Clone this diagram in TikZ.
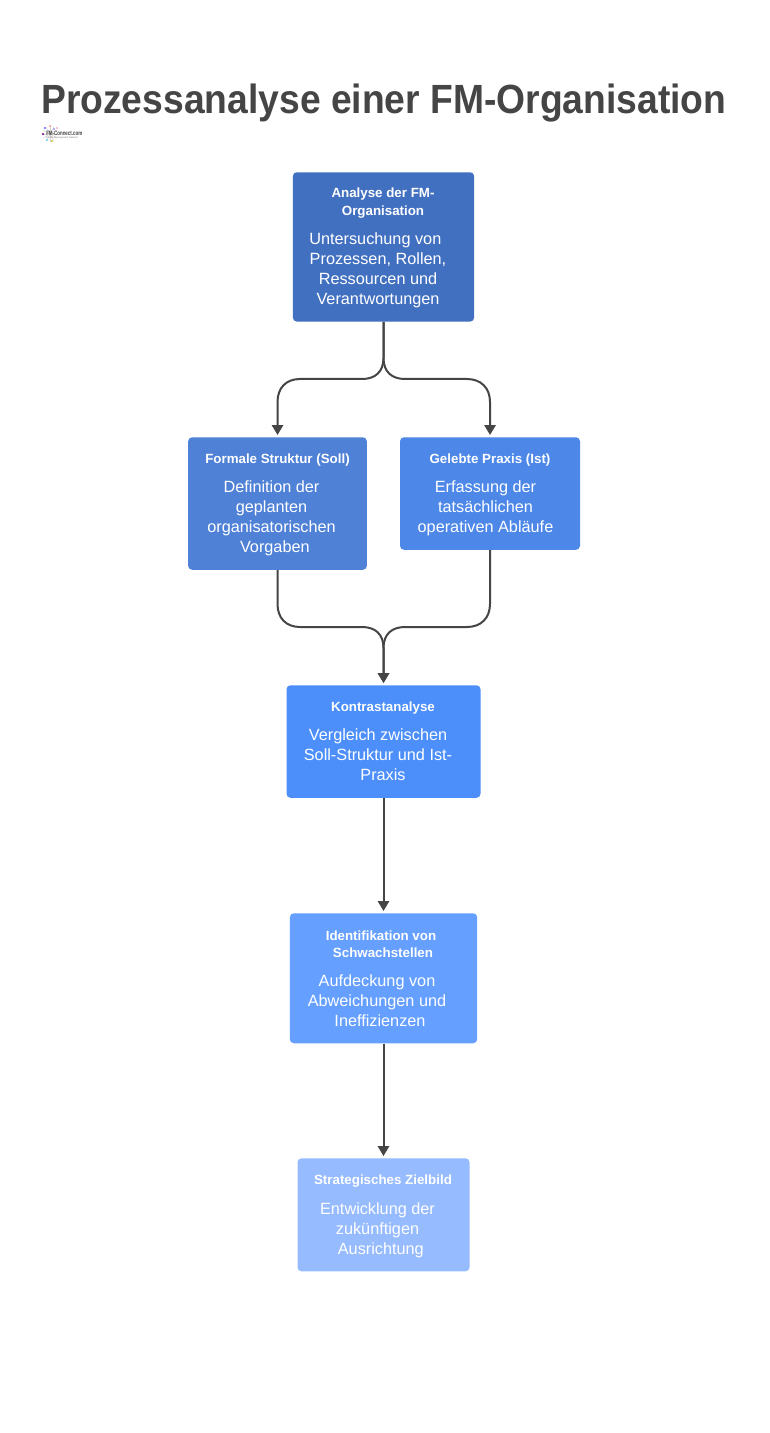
\documentclass[tikz,border=0pt]{standalone}
\usepackage{fontspec}
\setmainfont{Liberation Sans}
\usetikzlibrary{arrows.meta}
\definecolor{ink}{HTML}{454545}
\definecolor{fa}{HTML}{4270C0}
\definecolor{fb}{HTML}{4F81D6}
\definecolor{fc}{HTML}{4D87E8}
\definecolor{fd}{HTML}{4C8FFA}
\definecolor{fe}{HTML}{659FFF}
\definecolor{ff}{HTML}{96BBFF}
\tikzset{
  x=0.75pt,y=-0.75pt,
  boxn/.style={draw=none,rounded corners=3pt,inner sep=0pt,anchor=north},
  head/.style={text=white,font=\fontsize{10pt}{13pt}\selectfont\bfseries,align=center,inner sep=0pt},
  body/.style={text=white,font=\fontsize{12.2pt}{15pt}\selectfont,align=center,inner sep=0pt},
  conn/.style={draw=ink,line width=1.5pt,-{Triangle[length=7.5pt,width=8.5pt]},shorten >=1.5pt},
}
\begin{document}
\begin{tikzpicture}
\useasboundingbox (0,0) rectangle (769,1433);
\fill[white] (0,0) rectangle (769,1433);
\node[anchor=west,inner sep=0pt,text=ink,font=\fontsize{30.6pt}{36pt}\selectfont\bfseries] (title) at (41,103) {\scalebox{0.913}[1]{Prozessanalyse einer FM-Organisation}};
% logo
\foreach \a in {0,30,...,330}
  \draw[black!18,line width=0.3pt] (50,134) -- ++(\a:8);
\foreach \px/\py/\c in {45/128/blue!60,50/126/red!40,54/129/blue!40,43/134/violet,52/141/yellow!80!black,47/140/cyan!60,57/128/red!30}
  \fill[\c] (\px,\py) circle (0.8pt);
\node[inner sep=0pt,text=ink,font=\fontsize{3.5pt}{5pt}\selectfont\bfseries,anchor=west] (logo) at (46,133) {\scalebox{0.95}[1.35]{FM-Connect.com}};
\node[inner sep=0pt,text=ink!70,font=\fontsize{1.8pt}{2pt}\selectfont,anchor=west] (logosub) at (46,137.5) {Facility Management Network};

\node[boxn,fill=fa,minimum width=136pt,minimum height=112pt] (a) at (383.5,172) {};
\node[boxn,fill=fb,minimum width=134pt,minimum height=99.4pt] (b) at (277.5,437) {};
\node[boxn,fill=fc,minimum width=135pt,minimum height=84.4pt] (c) at (490,437) {};
\node[boxn,fill=fd,minimum width=145.5pt,minimum height=84.4pt] (d) at (383.5,685) {};
\node[boxn,fill=fe,minimum width=140.5pt,minimum height=97.5pt] (e) at (383.5,913) {};
\node[boxn,fill=ff,minimum width=129pt,minimum height=84.8pt] (f) at (383.5,1158) {};

\node[head] (at) at (383,203) {Analyse der FM-\\Organisation};
\node[body] (ab) at (378,270.5) {Untersuchung von\hspace*{4pt}\\Prozessen, Rollen,\\Ressourcen und\\Verantwortungen};
\node[head] (bt) at (277.5,460.5) {Formale Struktur (Soll)};
\node[body] (bb) at (271.5,518) {Definition der\\geplanten\\organisatorischen\\\hspace*{5pt}Vorgaben};
\node[head] (ct) at (490,460.5) {Gelebte Praxis (Ist)};
\node[body] (cb) at (485.5,508) {Erfassung der\\tatsächlichen\\operativen Abläufe};
\node[head] (dt) at (383,708.5) {Kontrastanalyse};
\node[body] (db) at (378,755) {Vergleich zwischen\\Soll-Struktur und Ist-\\\hspace*{7.5pt}Praxis};
\node[head] (et) at (381,944.5) {Identifikation von\\\hspace*{3pt}Schwachstellen};
\node[body] (eb) at (377,1001) {Aufdeckung von\\Abweichungen und\\\hspace*{4.5pt}Ineffizienzen};
\node[head] (ft) at (383,1181.5) {Strategisches Zielbild};
\node[body] (fb) at (377.5,1230) {Entwicklung der\\zukünftigen\\\hspace*{5pt}Ausrichtung};

\draw[conn] (a.south) -- (383.5,358) .. controls (383.5,372) and (375,379) .. (362,379) -- (300,379) .. controls (286,379) and (277.5,388) .. (277.5,402) -- (b.north);
\draw[conn] (a.south) -- (383.5,358) .. controls (383.5,372) and (392,379) .. (405,379) -- (467,379) .. controls (481,379) and (490,388) .. (490,402) -- (c.north);
\draw[conn] (b.south) -- (277.5,604) .. controls (277.5,618) and (286,627) .. (300,627) -- (362,627) .. controls (375,627) and (383.5,634) .. (383.5,648) -- (d.north);
\draw[conn] (c.south) -- (490,604) .. controls (490,618) and (481,627) .. (467,627) -- (405,627) .. controls (392,627) and (383.5,634) .. (383.5,648) -- (d.north);
\draw[conn] (d.south) -- (e.north);
\draw[conn] (e.south) -- (f.north);
\end{tikzpicture}
\end{document}
